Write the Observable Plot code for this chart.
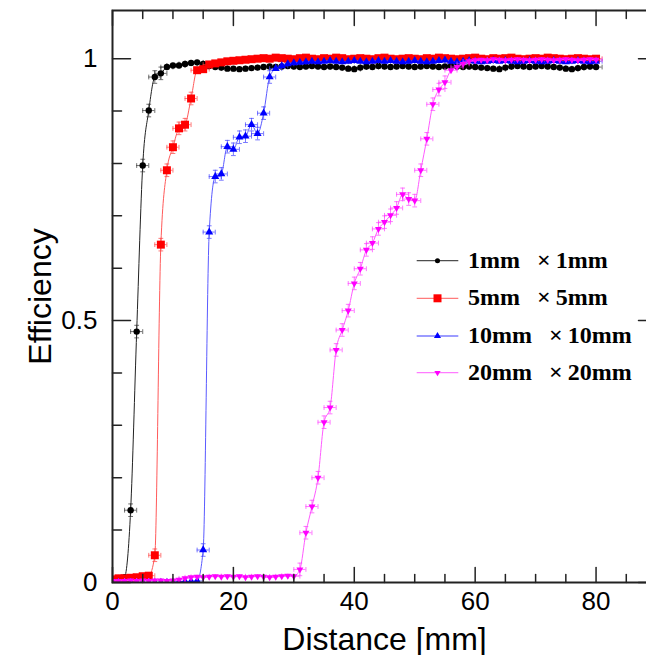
<!DOCTYPE html>
<html><head><meta charset="utf-8">
<script src="https://cdn.jsdelivr.net/npm/d3@7"></script>
<script src="https://cdn.jsdelivr.net/npm/@observablehq/plot@0.6"></script>
<style>html,body{margin:0;padding:0;background:#fff;overflow:hidden;width:646px;height:655px}#chart{width:646px;height:655px;overflow:hidden}#chart svg{display:block;max-width:none !important;width:657px;height:655px}</style>
</head><body><div id="chart"></div>
<script>
// ---- data ----
const distance = [0,1,2,3,4,5,6,7,8,9,10,11,12,13,14,15,16,17,18,19,20,21,22,23,24,25,26,27,28,29,30,31,32,33,34,35,36,37,38,39,40,41,42,43,44,45,46,47,48,49,50,51,52,53,54,55,56,57,58,59,60,61,62,63,64,65,66,67,68,69,70,71,72,73,74,75,76,77,78,79,80];
const eff1mm = [0.000,0.002,0.010,0.138,0.479,0.796,0.901,0.965,0.972,0.984,
 0.987,0.987,0.990,0.992,0.993,0.990,0.986,0.984,0.983,0.981,
 0.981,0.980,0.981,0.982,0.983,0.984,0.985,0.984,0.985,0.986,
 0.985,0.984,0.985,0.986,0.985,0.984,0.985,0.984,0.983,0.981,
 0.980,0.983,0.985,0.984,0.986,0.985,0.984,0.985,0.986,0.985,
 0.984,0.985,0.986,0.985,0.984,0.985,0.986,0.985,0.984,0.985,
 0.984,0.983,0.982,0.981,0.980,0.983,0.985,0.986,0.985,0.984,
 0.985,0.986,0.985,0.984,0.983,0.981,0.980,0.982,0.984,0.985,
 0.984];
const eff5mm = [0.006,0.008,0.008,0.009,0.010,0.012,0.013,0.052,0.645,0.787,
 0.831,0.867,0.874,0.924,0.978,0.980,0.989,0.991,0.993,0.995,
 0.996,0.997,0.998,0.999,1.000,1.001,1.000,1.002,1.001,1.000,
 0.999,1.001,1.002,1.000,0.999,1.001,1.000,1.002,1.001,0.999,
 1.000,1.001,1.000,0.999,1.001,1.002,1.000,0.999,1.000,1.001,
 1.000,0.999,1.001,1.000,1.002,1.001,1.000,0.999,1.000,1.001,
 1.002,1.000,0.999,1.001,1.000,1.001,1.002,1.000,0.999,1.000,
 1.001,1.000,1.002,1.001,1.000,0.999,1.000,1.001,1.000,0.999,
 1.000];
const eff10mm = [0.000,0.000,0.000,0.000,0.000,0.000,0.000,0.000,0.000,0.000,
 0.000,0.001,0.002,0.002,0.003,0.062,0.669,0.775,0.780,0.832,
 0.827,0.850,0.852,0.874,0.857,0.896,0.965,0.981,0.986,0.990,
 0.992,0.993,0.994,0.995,0.994,0.995,0.996,0.995,0.994,0.995,
 0.996,0.995,0.994,0.995,0.996,0.995,0.996,0.995,0.994,0.995,
 0.996,0.995,0.994,0.995,0.996,0.997,0.995,0.994,0.995,0.996,
 0.995,0.994,0.995,0.996,0.995,0.996,0.995,0.994,0.995,0.996,
 0.995,0.994,0.995,0.996,0.995,0.994,0.995,0.996,0.995,0.994,
 0.995];
const eff20mm = [0.003,0.003,0.003,0.004,0.003,0.004,0.003,0.004,0.004,0.003,
 0.004,0.005,0.008,0.010,0.011,0.010,0.011,0.012,0.011,0.012,
 0.011,0.012,0.010,0.011,0.012,0.011,0.010,0.011,0.012,0.013,
 0.012,0.025,0.095,0.145,0.200,0.306,0.334,0.444,0.482,0.519,
 0.571,0.599,0.635,0.648,0.675,0.688,0.701,0.715,0.741,0.732,
 0.729,0.787,0.847,0.913,0.941,0.955,0.978,0.984,0.990,0.995,
 0.997,0.998,0.997,0.999,0.998,0.997,0.998,0.999,0.998,0.997,
 0.998,0.999,0.998,0.997,0.998,0.999,0.998,0.997,0.998,0.999,
 0.998];
const seriesLabels = ["1mm", "5mm", "10mm", "20mm"];
const xErrHalf = 1;      // horizontal error bar half-width (mm)
const yErrHalf = 0.012;  // vertical error bar half-height (visible only off the plateaus)
const xTicksMajor = [0, 20, 40, 60, 80];
const xTicksMinor = [5, 10, 15, 25, 30, 35, 45, 50, 55, 65, 70, 75, 85];
const yTicksMajor = [0, 0.5, 1];
const yTicksMinor = [0.1, 0.2, 0.3, 0.4, 0.6, 0.7, 0.8, 0.9];
const xTitle = "Distance [mm]";
const yTitle = "Efficiency";

// ---- styles ----
const triDown = {draw(ctx, size) {
  const y = -Math.sqrt(size / (Math.sqrt(3) * 3));
  ctx.moveTo(0, -y * 2); ctx.lineTo(-Math.sqrt(3) * y, y); ctx.lineTo(Math.sqrt(3) * y, y); ctx.closePath();
}};
const styles = [
  {color: "#000000", line: "#222222", err: "#333333", symbol: "circle", r: 3.2, lsym: d3.symbolCircle, lsize: 20},
  {color: "#ff0000", line: "#ff5a5a", err: "#ff4040", symbol: "square", r: 4.5, lsym: d3.symbolSquare, lsize: 64},
  {color: "#0000ff", line: "#5a5aff", err: "#4040ff", symbol: "triangle", r: 3.0, lsym: d3.symbolTriangle, lsize: 22},
  {color: "#ff00ff", line: "#ff5aff", err: "#ff40ff", symbol: triDown, r: 2.6, lsym: triDown, lsize: 17}
];
const effSeries = [eff1mm, eff5mm, eff10mm, eff20mm];
const seg = {draw(ctx, l) { ctx.moveTo(0, 0); ctx.lineTo(0, -l); }};

const marks = [];
effSeries.forEach((vals, k) => {
  const st = styles[k];
  const rows = distance.map((x, i) => ({x, y: vals[i]}));
  const mid = rows.filter(d => d.y > 0.02 && d.y < 0.975);
  const eo = {stroke: st.err, strokeWidth: 1, strokeOpacity: 0.7, clip: true};
  marks.push(Plot.line(rows, {x: "x", y: "y", stroke: st.line, strokeWidth: 1, curve: "monotone-x", clip: true}));
  marks.push(Plot.ruleY(rows, {y: "y", x1: d => d.x - xErrHalf, x2: d => d.x + xErrHalf, ...eo}));
  marks.push(Plot.vector(rows, {x: d => d.x - xErrHalf, y: "y", length: 4, rotate: 0, anchor: "middle", shape: seg, ...eo}));
  marks.push(Plot.vector(rows, {x: d => d.x + xErrHalf, y: "y", length: 4, rotate: 0, anchor: "middle", shape: seg, ...eo}));
  marks.push(Plot.ruleX(mid, {x: "x", y1: d => d.y - yErrHalf, y2: d => d.y + yErrHalf, ...eo}));
  marks.push(Plot.vector(mid, {x: "x", y: d => d.y - yErrHalf, length: 4, rotate: 90, anchor: "middle", shape: seg, ...eo}));
  marks.push(Plot.vector(mid, {x: "x", y: d => d.y + yErrHalf, length: 4, rotate: 90, anchor: "middle", shape: seg, ...eo}));
  marks.push(Plot.dot(rows, {x: "x", y: "y", symbol: st.symbol, r: st.r, fill: st.color, stroke: "none", clip: true}));
});

const axisColor = "#222";
const tk = {shape: seg, stroke: axisColor, strokeWidth: 1.5, anchor: "start"};
const tickMarks = [
  Plot.vector(xTicksMajor, {x: d => d, frameAnchor: "bottom", length: 15, rotate: 0, ...tk}),
  Plot.vector(xTicksMinor, {x: d => d, frameAnchor: "bottom", length: 8, rotate: 0, ...tk}),
  Plot.vector(xTicksMajor, {x: d => d, frameAnchor: "top", length: 15, rotate: 180, ...tk}),
  Plot.vector(xTicksMinor, {x: d => d, frameAnchor: "top", length: 8, rotate: 180, ...tk}),
  Plot.vector(yTicksMajor, {y: d => d, frameAnchor: "left", length: 18, rotate: 90, ...tk}),
  Plot.vector(yTicksMinor, {y: d => d, frameAnchor: "left", length: 9, rotate: 90, ...tk}),
  Plot.vector(yTicksMajor, {y: d => d, frameAnchor: "right", length: 18, rotate: -90, ...tk}),
  Plot.vector(yTicksMinor, {y: d => d, frameAnchor: "right", length: 9, rotate: -90, ...tk})
];

const chart = Plot.plot({
  width: 657, height: 655,
  marginLeft: 112, marginRight: 1, marginTop: 10, marginBottom: 73,
  style: {fontFamily: "'Liberation Sans', Arial, Helvetica, sans-serif", background: "#fff", color: "#000", maxWidth: "none"},
  x: {domain: [0, 90]},
  y: {domain: [0, 1.092]},
  marks: [
    ...marks,
    ...tickMarks,
    Plot.frame({stroke: axisColor, strokeWidth: 2}),
    Plot.axisX(xTicksMajor, {anchor: "bottom", tickSize: 0, tickPadding: 9, fontSize: 26, tickFormat: d => String(d), label: null}),
    Plot.axisY(yTicksMajor, {anchor: "left", tickSize: 0, tickPadding: 15, fontSize: 26, tickFormat: d => String(d), label: null}),
    Plot.text([xTitle], {text: d => d, frameAnchor: "bottom", textAnchor: "middle", lineAnchor: "bottom", dy: 67, fontSize: 32}),
    Plot.text([yTitle], {text: d => d, frameAnchor: "left", textAnchor: "middle", lineAnchor: "bottom", rotate: -90, dx: -62, fontSize: 32})
  ]
});
document.getElementById("chart").appendChild(chart);

// ---- legend (inside the frame) ----
const svg = d3.select(chart);
const lg = svg.append("g").attr("text-anchor", "start");
const legendRowsY = [260.7, 298.3, 336, 372.7];
seriesLabels.forEach((name, i) => {
  const st = styles[i], cy = legendRowsY[i];
  lg.append("line").attr("x1", 416.7).attr("x2", 458.3).attr("y1", cy).attr("y2", cy)
    .attr("stroke", st.line).attr("stroke-width", 1.3).attr("stroke-opacity", 0.8);
  lg.append("path").attr("transform", `translate(437.5,${cy})`)
    .attr("d", d3.symbol(st.lsym, st.lsize)()).attr("fill", st.color);
  const t = lg.append("text").attr("x", 468).attr("y", cy + 7).attr("text-anchor", "start")
    .attr("font-family", "'Liberation Serif', 'Times New Roman', serif")
    .attr("font-weight", "bold").attr("font-size", 24).attr("fill", "#000");
  t.append("tspan").text(name);
  t.append("tspan").attr("dx", 17).text("×");
  t.append("tspan").attr("dx", 5).text(name);
});
</script></body></html>
